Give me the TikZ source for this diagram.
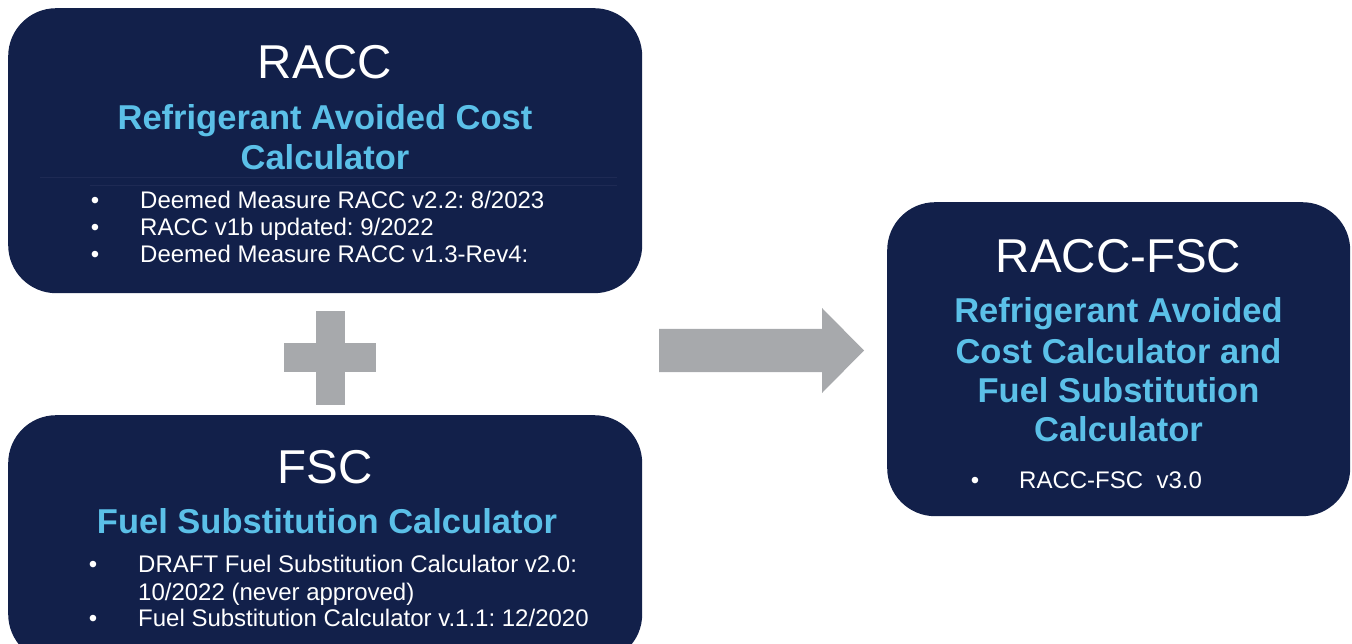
\documentclass[tikz,border=0pt]{standalone}
\usepackage{fontspec}
\setmainfont{Liberation Sans}
\frenchspacing

\definecolor{navy}{RGB}{18,32,74}
\definecolor{navyline}{RGB}{30,42,84}
\definecolor{skyblue}{RGB}{91,192,232}
\definecolor{plusgray}{RGB}{167,169,172}

\tikzset{
    calcbox/.style={fill=navy, rounded corners=48pt, anchor=north west, inner sep=0pt},
    boxtitle/.style={anchor=base, text=white, inner sep=0pt, font=\fontsize{47.5}{50}\selectfont},
    boxsub/.style={anchor=base, text=skyblue, inner sep=0pt, font=\fontsize{34.5}{40}\selectfont\bfseries},
    bulletdot/.style={anchor=base, text=white, inner sep=0pt, font=\fontsize{24}{27}\selectfont},
    bulletitem/.style={anchor=base west, text=white, inner sep=0pt, font=\fontsize{24}{27}\selectfont},
}

\begin{document}
\begin{tikzpicture}[x=1pt, y=-1pt]
    \useasboundingbox (0, 0) rectangle (1352, 644);

    % the three calculators
    \node[calcbox, minimum width=634pt, minimum height=285pt] (racc) at (8, 8) {};
    \node[calcbox, minimum width=634pt, minimum height=247pt] (fsc) at (8, 415) {};
    \node[calcbox, minimum width=463pt, minimum height=314pt] (raccfsc) at (887, 202) {};

    % RACC
    \node[boxtitle] (racctitle) at (325, 79) {RACC};
    \node[boxsub] (raccsubA) at (325, 130) {Refrigerant Avoided Cost};
    \node[boxsub] (raccsubB) at (325, 170) {Calculator};
    \draw[navyline, line width=0.6pt] (40, 177) -- (617, 177);
    \draw[navyline, line width=0.6pt] (90, 185) -- (617, 185);
    \node[bulletdot] (raccdotA) at (95, 209) {•};
    \node[bulletitem] (raccitemA) at (140, 209) {Deemed Measure RACC v2.2: 8/2023};
    \node[bulletdot] (raccdotB) at (95, 236) {•};
    \node[bulletitem] (raccitemB) at (140, 236) {RACC v1b updated: 9/2022};
    \node[bulletdot] (raccdotC) at (95, 263) {•};
    \node[bulletitem] (raccitemC) at (140, 263) {Deemed Measure RACC v1.3-Rev4:};

    % FSC
    \node[boxtitle] (fsctitle) at (325, 483) {FSC};
    \node[boxsub] (fscsub) at (327, 533) {Fuel Substitution Calculator};
    \node[bulletdot] (fscdotA) at (93, 572) {•};
    \node[bulletitem] (fscitemA) at (138, 572) {DRAFT Fuel Substitution Calculator v2.0:};
    \node[bulletitem] (fscitemB) at (138, 600) {10/2022 (never approved)};
    \node[bulletdot] (fscdotC) at (93, 626) {•};
    \node[bulletitem] (fscitemC) at (138, 626) {Fuel Substitution Calculator v.1.1: 12/2020};

    % RACC-FSC
    \node[boxtitle] (raccfsctitle) at (1118.5, 273) {RACC-FSC};
    \node[boxsub] (raccfscsubA) at (1118.5, 323) {Refrigerant Avoided};
    \node[boxsub] (raccfscsubB) at (1118.5, 363) {Cost Calculator and};
    \node[boxsub] (raccfscsubC) at (1118.5, 402) {Fuel Substitution};
    \node[boxsub] (raccfscsubD) at (1118.5, 441) {Calculator};
    \node[bulletdot] (raccfscdot) at (975, 488) {•};
    \node[bulletitem] (raccfscitem) at (1019, 488) {RACC-FSC\ \ v3.0};

    % plus and arrow
    \fill[plusgray] (316, 311) rectangle (345, 405);
    \fill[plusgray] (284, 343) rectangle (376, 372);
    \fill[plusgray] (659, 329) -- (822, 329) -- (822, 308) -- (864, 350.5)
        -- (822, 393) -- (822, 372) -- (659, 372) -- cycle;
\end{tikzpicture}
\end{document}
